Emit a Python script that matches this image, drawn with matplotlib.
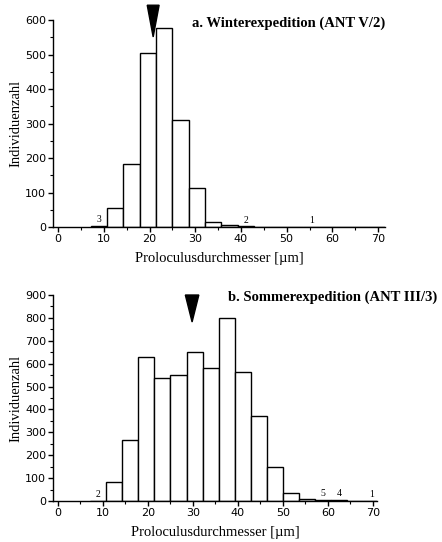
import numpy as np
import matplotlib
matplotlib.use("Agg")
import matplotlib.pyplot as plt
from matplotlib.patches import Polygon
from matplotlib.ticker import MultipleLocator

# bin edges (µm), width 25/7
edges = np.arange(2, 21) * 25 / 7

winter_counts = [3, 54, 184, 505, 578, 311, 113, 14, 6, 2, 0, 0, 0, 1, 0, 0, 0, 0]
summer_counts = [2, 85, 265, 630, 537, 550, 652, 580, 800, 565, 370, 150, 37, 10, 5, 4, 0, 1]

winter_labels = {0: "3", 9: "2", 13: "1"}
summer_labels = {0: "2", 14: "5", 15: "4", 17: "1"}

winter_mean = 20.8
summer_mean = 29.8

serif = "Liberation Serif"
tickfont = "DejaVu Sans"

fig = plt.figure(figsize=(4.42, 5.42), dpi=100)
ax1 = fig.add_axes([0.12, 0.581, 0.751, 0.382])
ax2 = fig.add_axes([0.12, 0.0757, 0.733, 0.380])


def draw_panel(ax, counts, labels, mean, title, title_pos, ymax, xlim, arrow):
    left = edges[:-1]
    width = np.diff(edges)
    ax.bar(left, counts, width=width, align="edge", color="white",
           edgecolor="black", linewidth=1.0)
    for i, txt in labels.items():
        ax.text(left[i] + width[i] / 2, counts[i] + ymax * 0.008, txt,
                ha="center", va="bottom", fontsize=7, family=serif)
    ax.set_xlim(*xlim)
    ax.set_ylim(0, ymax)
    ax.xaxis.set_major_locator(MultipleLocator(10))
    ax.xaxis.set_minor_locator(MultipleLocator(5))
    ax.yaxis.set_major_locator(MultipleLocator(100))
    ax.yaxis.set_minor_locator(MultipleLocator(50))
    for s in ("top", "right"):
        ax.spines[s].set_visible(False)
    for s in ("left", "bottom"):
        ax.spines[s].set_linewidth(1.0)
    ax.tick_params(which="major", length=3.5, width=1.0, labelsize=8,
                   pad=1.5)
    ax.tick_params(which="minor", length=2, width=0.8)
    for lab in ax.get_xticklabels() + ax.get_yticklabels():
        lab.set_family(tickfont)
    ax.set_xlabel("Proloculusdurchmesser [µm]", family=serif, fontsize=10.5,
                  labelpad=5.5)
    ax.set_ylabel("Individuenzahl", family=serif, fontsize=10.5, labelpad=2)
    ax.text(title_pos[0], title_pos[1], title, ha="right", va="center",
            family=serif, fontsize=10.5, weight="bold",
            transform=ax.get_yaxis_transform())
    # arrow marking the mean diameter
    half, tip, top = arrow
    tri = Polygon([[mean - half, top], [mean + half, top], [mean, tip]],
                  closed=True, facecolor="black", edgecolor="black",
                  clip_on=False)
    ax.add_patch(tri)


draw_panel(ax1, winter_counts, winter_labels, winter_mean,
           "a. Winterexpedition (ANT V/2)", (1.0, 591), 600, (-1.1, 71.5),
           (1.3, 551, 643))
draw_panel(ax2, summer_counts, summer_labels, summer_mean,
           "b. Sommerexpedition (ANT III/3)", (1.185, 890), 900, (-1.1, 70.9),
           (1.5, 782, 900))

fig.savefig("out.png", dpi=100)
